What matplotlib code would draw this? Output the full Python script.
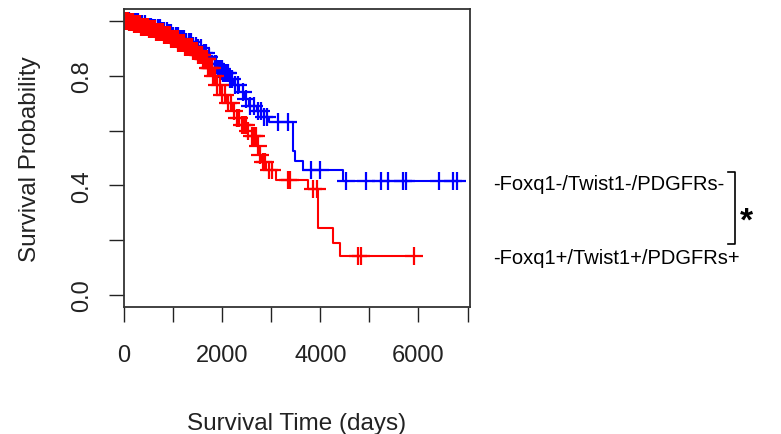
import numpy as np
import matplotlib
matplotlib.use("Agg")
import matplotlib.pyplot as plt

plt.rcParams["font.family"] = ["Liberation Sans", "DejaVu Sans"]

# Kaplan-Meier step curves (time in days, survival probability)
neg_time = [0, 150, 300, 450, 600, 750, 900, 1000, 1100, 1250, 1400, 1500, 1600,
            1700, 1800, 1900, 2000, 2150, 2250, 2350, 2450, 2550, 2700, 2850, 2950,
            3440, 3480, 3650, 4460, 6775]
neg_surv = [1.0, 0.995, 0.99, 0.98, 0.975, 0.965, 0.955, 0.945, 0.935, 0.925, 0.91,
            0.90, 0.885, 0.87, 0.845, 0.825, 0.81, 0.79, 0.765, 0.74, 0.715, 0.69,
            0.67, 0.65, 0.63, 0.527, 0.49, 0.456, 0.417, 0.417]
neg_cens = [30, 70, 110, 160, 200, 240, 290, 330, 370, 420, 460, 510, 550, 600, 640,
            690, 730, 780, 820, 870, 910, 960, 1000, 1050, 1090, 1140, 1180, 1230,
            1270, 1320, 1370, 1410, 1460, 1510, 1560, 1620, 1680, 1740, 1800, 1850,
            1880, 1910, 1940, 1960, 1990, 2010, 2040, 2060, 2090, 2120, 2150, 2200,
            2260, 2330, 2420, 2490, 2560, 2640, 2720, 2790, 2860, 2920, 3135, 3340,
            3820, 3990, 4520, 4940, 5234, 5370, 5688, 5737, 6421, 6694, 6775]

pos_time = [0, 100, 200, 350, 500, 650, 800, 950, 1100, 1250, 1400, 1500, 1600, 1700,
            1800, 1900, 2000, 2100, 2200, 2300, 2400, 2500, 2600, 2700, 2750, 2800,
            2900, 3100, 3750, 3945, 4263, 4400, 5912]
pos_surv = [1.0, 0.995, 0.99, 0.98, 0.97, 0.96, 0.95, 0.935, 0.92, 0.905, 0.89, 0.875,
            0.86, 0.83, 0.80, 0.765, 0.73, 0.70, 0.67, 0.645, 0.62, 0.60, 0.58, 0.545,
            0.51, 0.485, 0.455, 0.42, 0.387, 0.243, 0.19, 0.141, 0.141]
pos_cens = [10, 30, 50, 70, 90, 110, 130, 150, 170, 190, 210, 230, 250, 270, 290, 310,
            330, 350, 370, 390, 410, 430, 450, 470, 490, 510, 530, 550, 570, 590, 610,
            630, 650, 670, 690, 710, 730, 750, 770, 790, 810, 830, 850, 870, 890, 910,
            930, 950, 970, 990, 1010, 1030, 1050, 1070, 1090, 1110, 1130, 1150, 1170,
            1190, 1210, 1230, 1250, 1270, 1290, 1310, 1330, 1350, 1370, 1390, 1410,
            1430, 1450, 1470, 1490, 1510, 1530, 1550, 1570, 1590, 1610, 1630, 1650,
            1670, 1690, 1710, 1730, 1750, 1770, 1790, 1810, 1850, 1900, 1950, 2000,
            2060, 2120, 2180, 2240, 2300, 2350, 2400, 2440, 2480, 2530, 2600, 2650,
            2690, 2740, 2780, 2830, 2870, 2950, 3020, 3350, 3380, 3855, 3924, 4772,
            4827, 5912]

labels = ["-Foxq1-/Twist1-/PDGFRs-", "-Foxq1+/Twist1+/PDGFRs+"]


def surv_at(times, surv, t):
    idx = np.searchsorted(np.array(times), np.array(t), side="right") - 1
    return np.array(surv)[idx]


fig = plt.figure(figsize=(7.81, 4.35), dpi=100)
ax = fig.add_axes([0.1588, 0.292, 0.443, 0.685])

for times, surv, cens, col in [(neg_time, neg_surv, neg_cens, "#0000FF"),
                               (pos_time, pos_surv, pos_cens, "#FF0000")]:
    ax.step(times, surv, where="post", color=col, lw=1.5)
    ax.plot(cens, surv_at(times, surv, cens), ls="none", marker="+", ms=13,
            mew=1.6, color=col)

ax.set_xlim(0, 7050)
ax.set_ylim(-0.044, 1.044)
ax.set_xticks(np.arange(0, 8000, 1000))
ax.set_xticklabels(["0", "", "2000", "", "4000", "", "6000", ""])
ax.set_yticks(np.arange(0, 1.01, 0.2))
ax.set_yticklabels(["0.0", "", "0.4", "", "0.8", ""], rotation=90, va="center")
ax.tick_params(axis="both", length=11, width=1.0, labelsize=17, colors="#222222")
ax.tick_params(axis="x", pad=16)
ax.tick_params(axis="y", pad=11)
for sp in ax.spines.values():
    sp.set_linewidth(1.3)
    sp.set_color("#333333")

ax.set_xlabel("Survival Time (days)", fontsize=17.5, labelpad=33, color="#222222")
ax.set_ylabel("Survival Probability", fontsize=17.5, labelpad=22, color="#222222")

fig.text(493 / 781, 1 - 185 / 435, labels[0], fontsize=14.5, va="center", ha="left")
fig.text(493 / 781, 1 - 259 / 435, labels[1], fontsize=14.5, va="center", ha="left")
fig.lines.append(plt.Line2D([728 / 781, 735 / 781, 735 / 781, 728 / 781],
                            [1 - 173 / 435, 1 - 173 / 435, 1 - 245 / 435, 1 - 245 / 435],
                            transform=fig.transFigure, color="black", lw=1.2))
fig.text(740 / 781, 1 - 222 / 435, "*", fontsize=24, fontweight="bold",
         va="center", ha="left")

fig.savefig("out.png", dpi=100)
